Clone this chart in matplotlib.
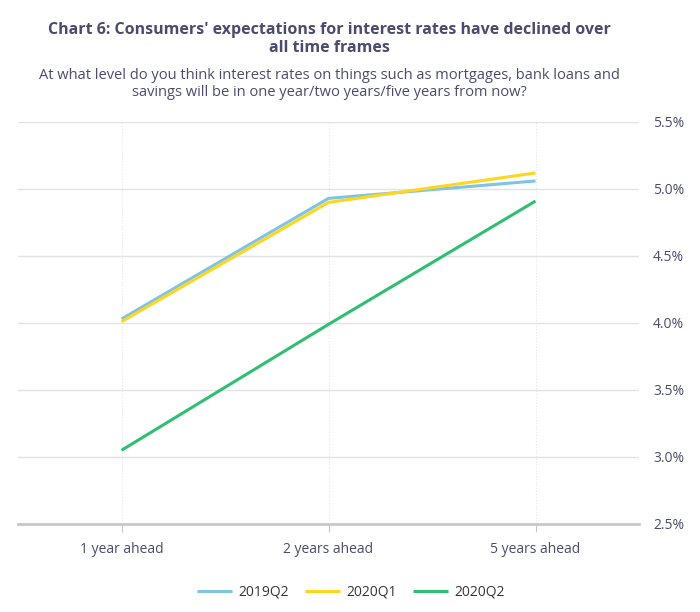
import matplotlib as mpl
mpl.use("Agg")
import matplotlib.pyplot as plt
from matplotlib.ticker import FuncFormatter

mpl.rcParams.update({"font.family": ["Open Sans", "DejaVu Sans"], "font.size": 10})
TXT = "#4b4b6e"

categories = ["1 year ahead", "2 years ahead", "5 years ahead"]
series_names = ["2019Q2", "2020Q1", "2020Q2"]
s2019q2 = [4.03, 4.93, 5.06]
s2020q1 = [4.01, 4.90, 5.12]
s2020q2 = [3.05, 3.99, 4.91]
colors = ["#7fc4e2", "#ffd61f", "#2ebf72"]

fig = plt.figure(figsize=(7.0, 6.12), dpi=100)
ax = fig.add_axes([18 / 700, 1 - 524 / 612, (639 - 18) / 700, (524 - 122) / 612])

x = range(len(categories))
for vals, name, col in zip([s2019q2, s2020q1, s2020q2], series_names, colors):
    ax.plot(x, vals, color=col, lw=2.2, label=name, solid_capstyle="butt")

ax.set_xlim(-0.5, 2.5)
ax.set_ylim(2.5, 5.5)
ax.set_yticks([2.5, 3.0, 3.5, 4.0, 4.5, 5.0, 5.5])
ax.yaxis.set_major_formatter(FuncFormatter(lambda v, p: f"{v:.1f}%"))
ax.yaxis.tick_right()
ax.set_xticks(list(x))
ax.set_xticklabels(categories)
ax.tick_params(axis="y", length=0, pad=10, labelcolor=TXT, labelsize=10)
ax.tick_params(axis="x", length=6, color="#c8c8c8", pad=7, labelcolor=TXT, labelsize=10)
ax.grid(axis="y", color="#e3e3e3", lw=1)
ax.grid(axis="x", color="#e6e6e6", lw=0.8, ls=":")
ax.set_axisbelow(True)
for s in ["top", "left", "right"]:
    ax.spines[s].set_visible(False)
ax.spines["bottom"].set_color("#c8c8c8")
ax.spines["bottom"].set_linewidth(2)

cx = 329 / 700
fig.text(cx, 1 - 39 / 612, "Chart 6: Consumers' expectations for interest rates have declined over\nall time frames",
         ha="center", va="center", fontsize=11.5, fontweight="bold", color=TXT, linespacing=1.15)
fig.text(cx, 1 - 84 / 612, "At what level do you think interest rates on things such as mortgages, bank loans and\nsavings will be in one year/two years/five years from now?",
         ha="center", va="center", fontsize=10.5, color=TXT, linespacing=1.2)

leg = fig.legend(loc="center", bbox_to_anchor=(351 / 700, 1 - 592 / 612), ncol=3, frameon=False,
                 handlelength=2.5, handletextpad=0.45, columnspacing=1.2, fontsize=10)
for t in leg.get_texts():
    t.set_color("#333344")

fig.savefig("out.png", dpi=100)
